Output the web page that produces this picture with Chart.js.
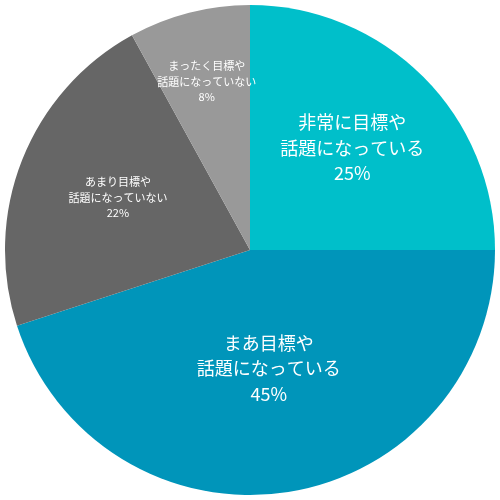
<!DOCTYPE html>
<html>
<head>
<meta charset="utf-8">
<script src="https://cdn.jsdelivr.net/npm/chart.js@4/dist/chart.umd.min.js"></script>
<style>
  html, body { margin: 0; padding: 0; background: #fff; }
  #wrap { width: 500px; height: 500px; }
</style>
</head>
<body>
<div id="wrap"><canvas id="pie"></canvas></div>
<script>
// slices, clockwise from 12 o'clock
var labels = [
    ["非常に目標や", "話題になっている"],
    ["まあ目標や", "話題になっている"],
    ["あまり目標や", "話題になっていない"],
    ["まったく目標や", "話題になっていない"]
];
var values = [25, 45, 22, 8];
var colors = ["#00bfca", "#0095ba", "#666666", "#999999"];

// where each label sits, as fraction of radius along the slice's middle angle
var labelRadius = [0.59, 0.49, 0.58, 0.71];
var labelSize = [18, 18, 11, 11];

var sliceLabels = {
    id: "sliceLabels",
    afterDatasetsDraw: function (chart) {
        var ctx = chart.ctx;
        var meta = chart.getDatasetMeta(0);
        meta.data.forEach(function (arc, i) {
            var mid = (arc.startAngle + arc.endAngle) / 2;
            var r = arc.outerRadius * labelRadius[i];
            var x = arc.x + Math.cos(mid) * r;
            var y = arc.y + Math.sin(mid) * r;
            var size = labelSize[i];
            var lh = size * 1.4;
            var lines = labels[i].concat([values[i] + "%"]);
            ctx.save();
            ctx.fillStyle = "#ffffff";
            ctx.textAlign = "center";
            ctx.textBaseline = "middle";
            ctx.font = size + "px 'Noto Sans CJK JP', 'Noto Sans', sans-serif";
            lines.forEach(function (line, j) {
                ctx.fillText(line, x, y + (j - (lines.length - 1) / 2) * lh);
            });
            ctx.restore();
        });
    }
};

var ctx = document.getElementById("pie").getContext("2d");
var myChart = new Chart(ctx, {
    type: "pie",
    data: {
        labels: labels.map(function (l) { return l.join(""); }),
        datasets: [
            {
                data: values,
                backgroundColor: colors,
                borderWidth: 0,
            },
        ],
    },
    options: {
        responsive: true,
        maintainAspectRatio: false,
        animation: false,
        layout: { padding: 5 },
        plugins: {
            legend: { display: false },
            tooltip: { enabled: false },
        },
    },
    plugins: [sliceLabels],
});
</script>
</body>
</html>
